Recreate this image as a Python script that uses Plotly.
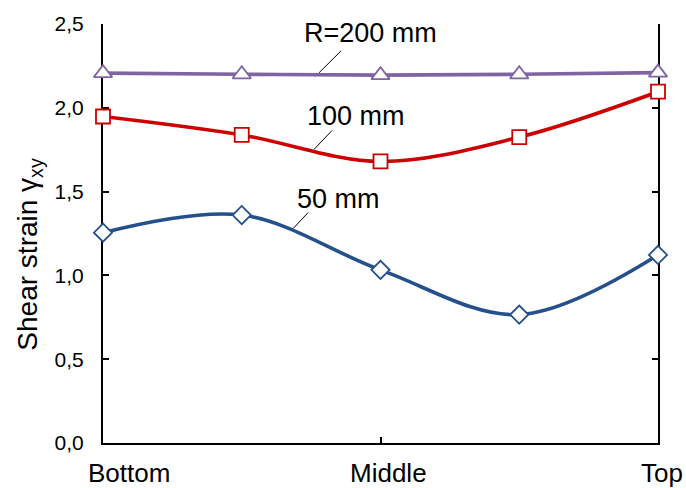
import plotly.graph_objects as go

# Data
positions = [0, 1, 2, 3, 4]
cat_labels = ["Bottom", "Middle", "Top"]
cat_label_pos = [0.19, 2.056, 4.03]
r200 = [2.207, 2.200, 2.195, 2.200, 2.210]
r100 = [1.948, 1.838, 1.680, 1.825, 2.096]
r50 = [1.255, 1.360, 1.033, 0.766, 1.122]

series_names = ["R=200 mm", "100 mm", "50 mm"]
series_values = [r200, r100, r50]
series_colors = ["#8064A2", "#CC0000", "#24508C"]
series_symbols = ["triangle-up", "square", "diamond"]
series_msize = [16, 14, 14]

# label positions (data coords): text x, text y, leader start, leader end
label_text_pos = [(1.925, 2.448), (1.824, 1.954), (1.694, 1.458)]
leader_start = [(1.557, 2.209), (1.521, 1.752), (1.370, 1.279)]
leader_end = [(1.716, 2.340), (1.651, 1.865), (1.478, 1.375)]

FONT = "Liberation Sans, Arial, sans-serif"
X_MAX = positions[-1]

fig = go.Figure()
for name, vals, col, sym, ms in zip(series_names, series_values, series_colors, series_symbols, series_msize):
    fig.add_trace(go.Scatter(
        x=positions, y=vals, mode="lines+markers", name=name,
        line=dict(color=col, width=3.6, shape="spline", smoothing=1.0),
        marker=dict(symbol=sym, size=ms, color="white",
                    line=dict(color=col, width=1.8)),
        cliponaxis=False, showlegend=False,
    ))

annotations = []
shapes = []
for name, (tx, ty), (sx, sy), (ex, ey) in zip(series_names, label_text_pos, leader_start, leader_end):
    annotations.append(dict(x=tx, y=ty, xref="x", yref="y", text=name, showarrow=False,
                            font=dict(family=FONT, size=27, color="black"),
                            xanchor="center", yanchor="middle"))
    shapes.append(dict(type="line", x0=sx, y0=sy, x1=ex, y1=ey, xref="x", yref="y",
                       line=dict(color="black", width=1)))

for lab, px in zip(cat_labels, cat_label_pos):
    annotations.append(dict(x=px / X_MAX, y=-0.072, xref="paper", yref="paper", text=lab,
                            showarrow=False,
                            font=dict(family=FONT, size=26, color="black"),
                            xanchor="center", yanchor="middle"))

annotations.append(dict(x=-0.133, y=0.45, xref="paper", yref="paper",
                        text="Shear strain γ<sub>xy</sub>", textangle=-90, showarrow=False,
                        font=dict(family=FONT, size=28, color="black"),
                        xanchor="center", yanchor="middle"))

fig.update_layout(
    width=686, height=488,
    margin=dict(l=103, r=28, t=21, b=45),
    paper_bgcolor="white", plot_bgcolor="white",
    separators=",.",
    annotations=annotations, shapes=shapes,
    xaxis=dict(range=[0, X_MAX], tickvals=[0, 2, 4], showticklabels=False,
               ticks="inside", ticklen=6, tickwidth=2, tickcolor="black",
               showline=True, linewidth=2, linecolor="black", showgrid=False,
               zeroline=False, layer="below traces"),
    yaxis=dict(range=[0, 2.5], dtick=0.5, tick0=0, tickformat=".1f",
               ticks="inside", ticklen=6, tickwidth=2, tickcolor="black",
               showline=True, linewidth=2, linecolor="black", mirror="ticks",
               showgrid=False, zeroline=False, layer="below traces",
               tickfont=dict(family=FONT, size=21, color="black"),
               ticklabelstandoff=13),
)

fig.write_html("out.html")
